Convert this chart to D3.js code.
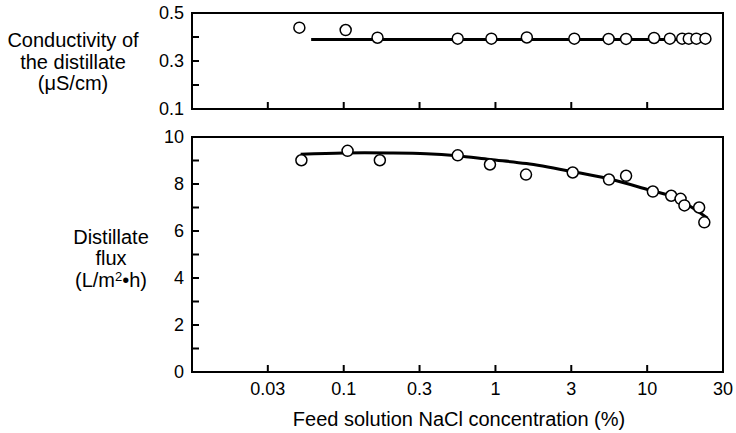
<!DOCTYPE html>
<html>
<head>
<meta charset="utf-8">
<script src="https://cdn.jsdelivr.net/npm/d3@7"></script>
<style>
  body { margin: 0; background: #fff; }
  svg text { font-family: 'Liberation Sans', Arial, sans-serif; fill: #000; }
</style>
</head>
<body>
<svg width="736" height="433"></svg>
<script>
// feed concentration ticks (half decades, labelled the way the figure does)
let xTickValues = [0.0316, 0.1, 0.316, 1, 3.16, 10, 31.6]
let xTickLabels = ['0.03', '0.1', '0.3', '1', '3', '10', '30']

// conductivity of the distillate (uS/cm)
let condX = [0.051, 0.103, 0.167, 0.564, 0.94, 1.61, 3.31, 5.57, 7.26, 11.1, 14.1, 17.0, 18.8, 21.1, 24.2]
let condY = [0.439, 0.429, 0.397, 0.393, 0.393, 0.398, 0.393, 0.392, 0.392, 0.396, 0.393, 0.393, 0.393, 0.393, 0.393]
let condLineX = [0.061, 24.2]
let condLineY = [0.39, 0.39]

// distillate flux (L/m2 h)
let fluxX = [0.0526, 0.106, 0.173, 0.564, 0.92, 1.59, 3.23, 5.6, 7.26, 10.9, 14.4, 16.6, 17.6, 22.0, 23.8]
let fluxY = [9.01, 9.41, 9.01, 9.22, 8.83, 8.40, 8.49, 8.19, 8.35, 7.68, 7.50, 7.37, 7.09, 7.00, 6.37]
let fitX = [0.052, 0.1, 0.2, 0.35, 0.56, 0.92, 1.6, 3.2, 5.6, 10.9, 14.4, 20, 25]
let fitY = [9.27, 9.32, 9.32, 9.29, 9.2, 9.04, 8.87, 8.53, 8.22, 7.70, 7.48, 6.98, 6.54]

let condTicks = [0.1, 0.2, 0.3, 0.4, 0.5]
let condLabels = [0.1, 0.3, 0.5]
let fluxTicks = [0, 1, 2, 3, 4, 5, 6, 7, 8, 9, 10]
let fluxLabels = [0, 2, 4, 6, 8, 10]

let left = 192
let right = 723
let top1 = { top: 13, bottom: 109 }
let top2 = { top: 137, bottom: 372 }
let tickLen = 7

let svg = d3.select('svg')

let xScale = d3.scaleLog()
  .domain([0.01, 31.6])
  .range([left, right])

let yCond = d3.scaleLinear().domain([0.1, 0.5]).range([top1.bottom, top1.top])
let yFlux = d3.scaleLinear().domain([0, 10]).range([top2.bottom, top2.top])

function panel(yScale, box, yTicks, yLabels, fmt) {
  let g = svg.append('g')
  g.append('rect')
    .attr('x', left).attr('y', box.top)
    .attr('width', right - left).attr('height', box.bottom - box.top)
    .attr('fill', 'none').attr('stroke', '#000').attr('stroke-width', 2)
  // inward ticks, left axis
  g.selectAll('.yt').data(yTicks).enter().append('line')
    .attr('x1', left).attr('x2', left + tickLen)
    .attr('y1', d => yScale(d)).attr('y2', d => yScale(d))
    .attr('stroke', '#000').attr('stroke-width', 2)
  g.selectAll('.yl').data(yLabels).enter().append('text')
    .attr('x', left - 8).attr('y', d => yScale(d))
    .attr('dy', '0.36em')
    .attr('text-anchor', 'end')
    .style('font-size', '18px')
    .text(fmt)
  // inward ticks, bottom axis
  g.selectAll('.xt').data(xTickValues.slice(0, -1)).enter().append('line')
    .attr('x1', d => xScale(d)).attr('x2', d => xScale(d))
    .attr('y1', box.bottom).attr('y2', box.bottom - tickLen)
    .attr('stroke', '#000').attr('stroke-width', 2)
  return g
}

let g1 = panel(yCond, top1, condTicks, condLabels, d => d.toFixed(1))
let g2 = panel(yFlux, top2, fluxTicks, fluxLabels, d => d)

svg.selectAll('.xl').data(xTickValues).enter().append('text')
  .attr('x', d => xScale(d))
  .attr('y', 395)
  .attr('text-anchor', 'middle')
  .style('font-size', '18px')
  .text((d, i) => xTickLabels[i])

// conductivity line + points
let condLine = d3.line()
  .x(d => xScale(d[0]))
  .y(d => yCond(d[1]))
g1.append('path')
  .attr('d', condLine(d3.zip(condLineX, condLineY)))
  .attr('fill', 'none').attr('stroke', '#000').attr('stroke-width', 3)
g1.selectAll('circle').data(d3.zip(condX, condY)).enter().append('circle')
  .attr('cx', d => xScale(d[0])).attr('cy', d => yCond(d[1]))
  .attr('r', 5.5)
  .attr('fill', '#fff').attr('stroke', '#000').attr('stroke-width', 1.5)

// flux fit + points
let fluxLine = d3.line()
  .x(d => xScale(d[0]))
  .y(d => yFlux(d[1]))
  .curve(d3.curveCatmullRom)
g2.append('path')
  .attr('d', fluxLine(d3.zip(fitX, fitY)))
  .attr('fill', 'none').attr('stroke', '#000').attr('stroke-width', 3)
g2.selectAll('circle').data(d3.zip(fluxX, fluxY)).enter().append('circle')
  .attr('cx', d => xScale(d[0])).attr('cy', d => yFlux(d[1]))
  .attr('r', 5.5)
  .attr('fill', '#fff').attr('stroke', '#000').attr('stroke-width', 1.5)

// titles
let t1 = svg.append('text')
  .attr('text-anchor', 'middle')
  .style('font-size', '20px')
t1.append('tspan').attr('x', 73).attr('y', 47).text('Conductivity of')
t1.append('tspan').attr('x', 73).attr('y', 68.5).text('the distillate')
t1.append('tspan').attr('x', 73).attr('y', 90).text('(\u03bcS/cm)')

let t2 = svg.append('text')
  .attr('text-anchor', 'middle')
  .style('font-size', '20px')
t2.append('tspan').attr('x', 111).attr('y', 243.5).text('Distillate')
t2.append('tspan').attr('x', 111).attr('y', 265).text('flux')

let t3 = svg.append('text')
  .attr('x', 111).attr('y', 287)
  .attr('text-anchor', 'middle')
  .style('font-size', '20px')
t3.append('tspan').text('(L/m')
t3.append('tspan').attr('dy', -6).style('font-size', '13px').text('2')
t3.append('tspan').attr('dy', 6).text('\u2022h)')

svg.append('text')
  .attr('x', 459).attr('y', 426)
  .attr('text-anchor', 'middle')
  .style('font-size', '20px')
  .text('Feed solution NaCl concentration (%)')
</script>
</body>
</html>
